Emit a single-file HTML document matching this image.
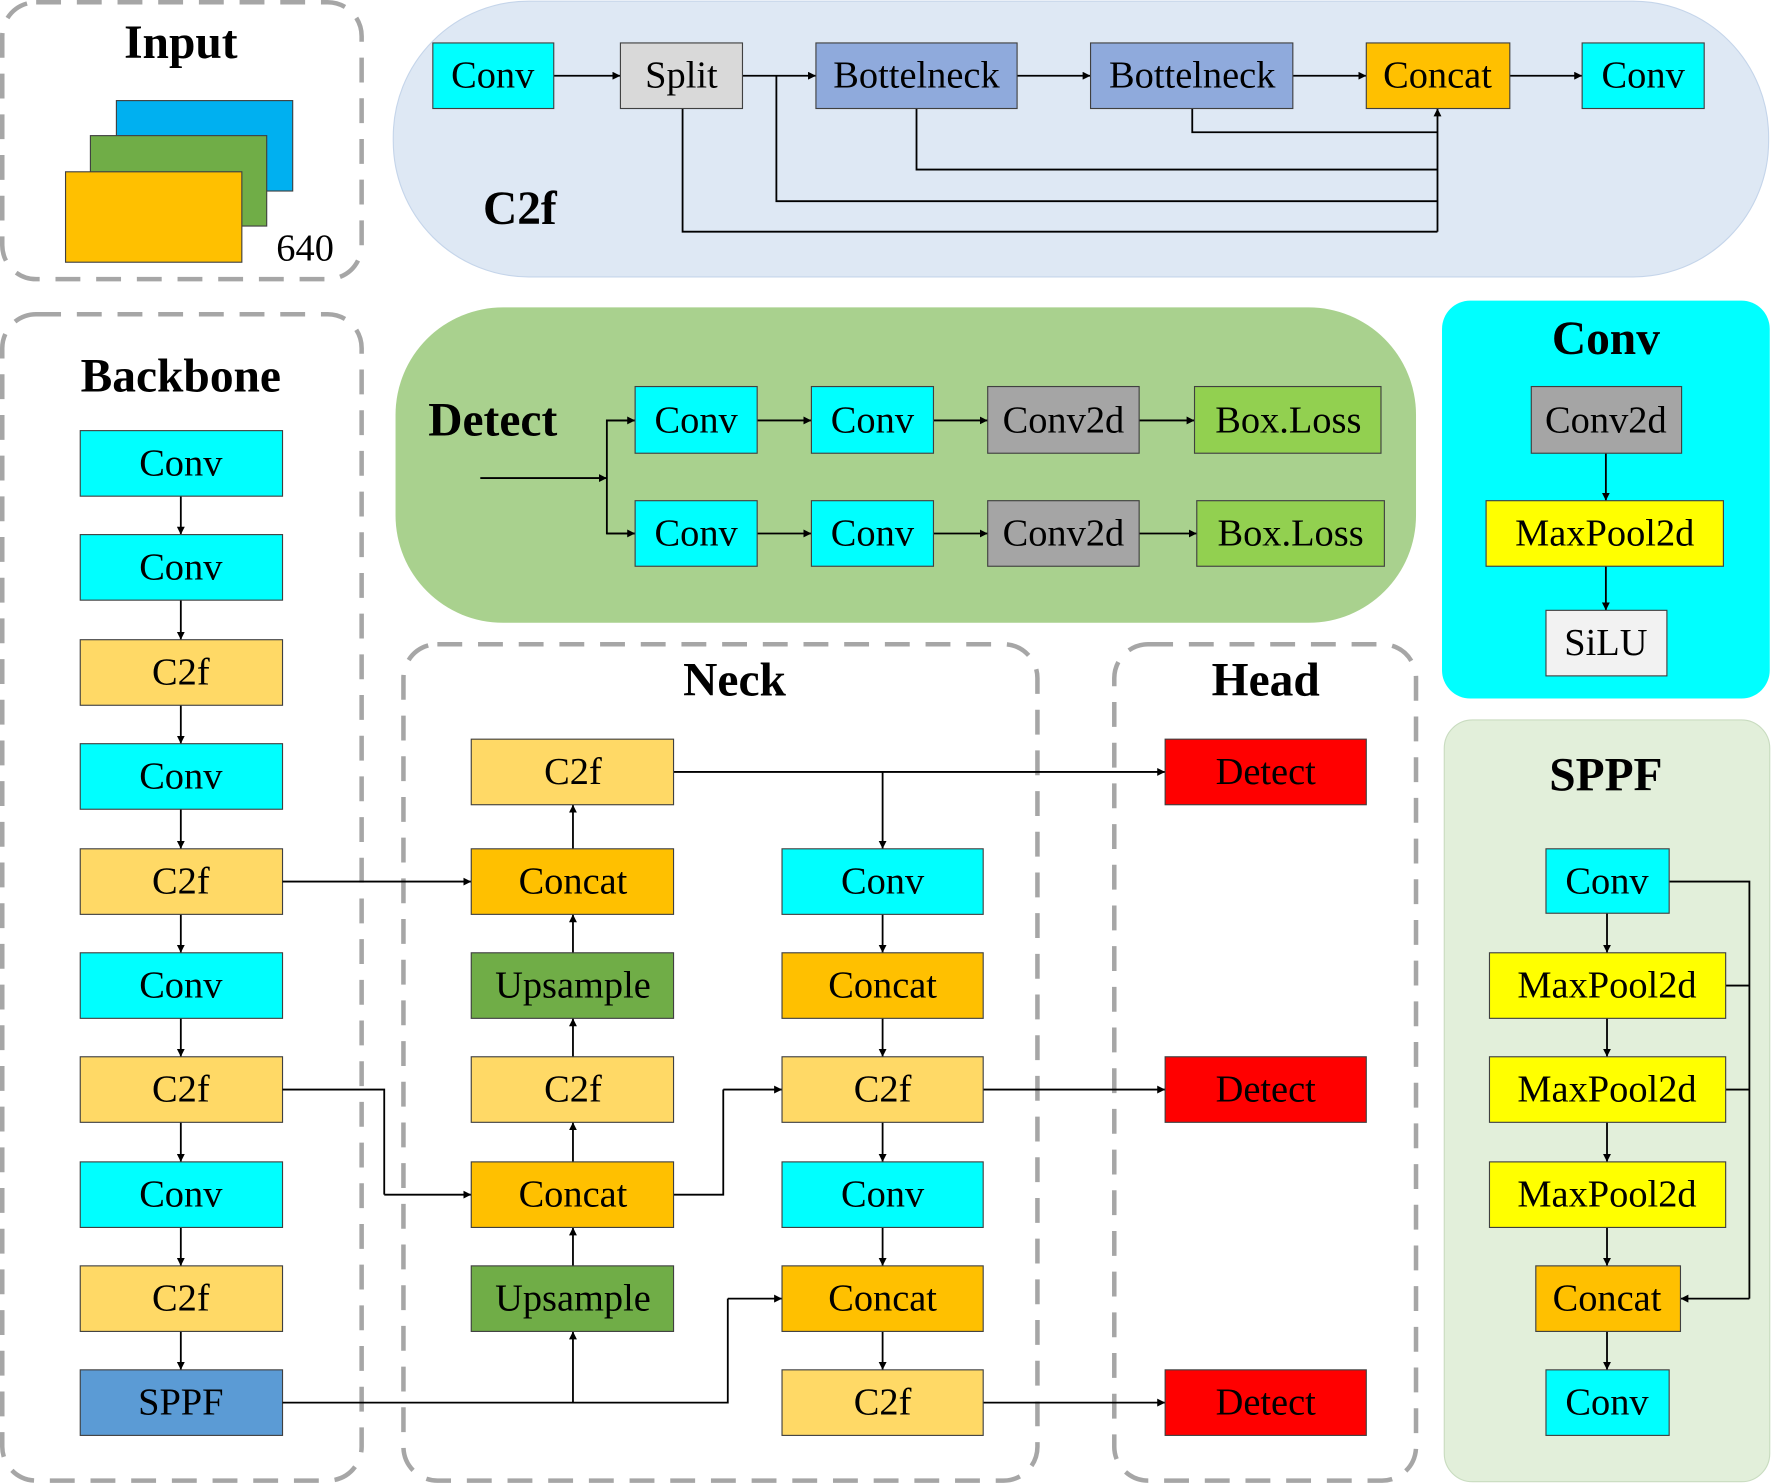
<!DOCTYPE html>
<html><head><meta charset="utf-8"><style>
html,body{margin:0;padding:0;background:#fff;}
svg{display:block;}
text{font-family:"Liberation Serif",serif;text-anchor:middle;dominant-baseline:central;fill:#000;}
.t{font-size:34px;}
.h{font-size:42px;font-weight:bold;}
.b{stroke:#404040;stroke-width:1;}
.l{stroke:#000;stroke-width:1.6;fill:none;}
.d{fill:none;stroke:#a6a6a6;stroke-width:4;stroke-dasharray:22,14;}
</style></head><body>
<svg width="1772" height="1484" viewBox="0 0 1568 1313" preserveAspectRatio="none" xmlns="http://www.w3.org/2000/svg">
<defs><marker id="a" viewBox="0 0 10 10" refX="10" refY="5" markerWidth="7" markerHeight="7" markerUnits="userSpaceOnUse" orient="auto"><path d="M0,0L10,5L0,10z" fill="#000"/></marker></defs>

<!-- Input -->
<rect class="d" x="2" y="2" width="318" height="245" rx="30"/>
<text class="h" x="160" y="38">Input</text>
<rect x="103" y="89" width="156" height="80" fill="#00b0f0" class="b"/>
<rect x="80" y="120" width="156" height="80" fill="#70ad47" class="b"/>
<rect x="58" y="152" width="156" height="80" fill="#ffc000" class="b"/>
<text class="t" x="270" y="220">640</text>

<!-- C2f panel -->
<rect x="348" y="1" width="1217" height="244" rx="120" fill="#dee8f4" stroke="#c5d5ea"/>
<text class="h" x="460" y="185">C2f</text>
<g class="l">
<line x1="490" y1="67" x2="549" y2="67" marker-end="url(#a)"/>
<line x1="657" y1="67" x2="722" y2="67" marker-end="url(#a)"/>
<line x1="900" y1="67" x2="965" y2="67" marker-end="url(#a)"/>
<line x1="1144" y1="67" x2="1209" y2="67" marker-end="url(#a)"/>
<line x1="1336" y1="67" x2="1400" y2="67" marker-end="url(#a)"/>
<polyline points="687,67 687,178 1272,178"/>
<polyline points="604,96 604,205 1272,205"/>
<polyline points="811,96 811,150 1272,150"/>
<polyline points="1055,96 1055,117 1272,117"/>
<line x1="1272" y1="205" x2="1272" y2="96" marker-end="url(#a)"/>
</g>
<rect x="383" y="38" width="107" height="58" fill="#00ffff" class="b"/><text class="t" x="436" y="67">Conv</text>
<rect x="549" y="38" width="108" height="58" fill="#d9d9d9" class="b"/><text class="t" x="603" y="67">Split</text>
<rect x="722" y="38" width="178" height="58" fill="#8faadc" class="b"/><text class="t" x="811" y="67">Bottelneck</text>
<rect x="965" y="38" width="179" height="58" fill="#8faadc" class="b"/><text class="t" x="1055" y="67">Bottelneck</text>
<rect x="1209" y="38" width="127" height="58" fill="#ffc000" class="b"/><text class="t" x="1272" y="67">Concat</text>
<rect x="1400" y="38" width="108" height="58" fill="#00ffff" class="b"/><text class="t" x="1454" y="67">Conv</text>

<!-- Detect panel -->
<rect x="350" y="272" width="903" height="279" rx="95" fill="#a9d18e"/>
<text class="h" x="436" y="372">Detect</text>
<g class="l">
<line x1="425" y1="423" x2="537" y2="423" marker-end="url(#a)"/>
<polyline points="562,372 537,372 537,472 562,472"/>
<line x1="537" y1="372" x2="562" y2="372" marker-end="url(#a)"/>
<line x1="537" y1="472" x2="562" y2="472" marker-end="url(#a)"/>
<line x1="670" y1="372" x2="718" y2="372" marker-end="url(#a)"/>
<line x1="826" y1="372" x2="874" y2="372" marker-end="url(#a)"/>
<line x1="1008" y1="372" x2="1057" y2="372" marker-end="url(#a)"/>
<line x1="670" y1="472" x2="718" y2="472" marker-end="url(#a)"/>
<line x1="826" y1="472" x2="874" y2="472" marker-end="url(#a)"/>
<line x1="1008" y1="472" x2="1059" y2="472" marker-end="url(#a)"/>
</g>
<rect x="562" y="342" width="108" height="59" fill="#00ffff" class="b"/><text class="t" x="616" y="372">Conv</text>
<rect x="718" y="342" width="108" height="59" fill="#00ffff" class="b"/><text class="t" x="772" y="372">Conv</text>
<rect x="874" y="342" width="134" height="59" fill="#a5a5a5" class="b"/><text class="t" x="941" y="372">Conv2d</text>
<rect x="1057" y="342" width="165" height="59" fill="#92d050" class="b"/><text class="t" x="1140" y="372">Box.Loss</text>
<rect x="562" y="443" width="108" height="58" fill="#00ffff" class="b"/><text class="t" x="616" y="472">Conv</text>
<rect x="718" y="443" width="108" height="58" fill="#00ffff" class="b"/><text class="t" x="772" y="472">Conv</text>
<rect x="874" y="443" width="134" height="58" fill="#a5a5a5" class="b"/><text class="t" x="941" y="472">Conv2d</text>
<rect x="1059" y="443" width="166" height="58" fill="#92d050" class="b"/><text class="t" x="1142" y="472">Box.Loss</text>

<!-- Conv panel -->
<rect x="1276" y="266" width="290" height="352" rx="25" fill="#00ffff"/>
<text class="h" x="1421" y="300">Conv</text>
<g class="l">
<line x1="1421" y1="401" x2="1421" y2="443" marker-end="url(#a)"/>
<line x1="1421" y1="501" x2="1421" y2="540" marker-end="url(#a)"/>
</g>
<rect x="1355" y="342" width="133" height="59" fill="#a5a5a5" class="b"/><text class="t" x="1421" y="372">Conv2d</text>
<rect x="1315" y="443" width="210" height="58" fill="#ffff00" class="b"/><text class="t" x="1420" y="472">MaxPool2d</text>
<rect x="1368" y="540" width="107" height="58" fill="#f2f2f2" class="b"/><text class="t" x="1421" y="569">SiLU</text>

<!-- SPPF panel -->
<rect x="1278" y="637" width="288" height="674" rx="25" fill="#e2efda" stroke="#c9dcc0"/>
<text class="h" x="1421" y="686">SPPF</text>
<g class="l">
<line x1="1422" y1="808" x2="1422" y2="843" marker-end="url(#a)"/>
<line x1="1422" y1="901" x2="1422" y2="935" marker-end="url(#a)"/>
<line x1="1422" y1="993" x2="1422" y2="1028" marker-end="url(#a)"/>
<line x1="1422" y1="1086" x2="1422" y2="1120" marker-end="url(#a)"/>
<line x1="1422" y1="1178" x2="1422" y2="1212" marker-end="url(#a)"/>
<polyline points="1477,780 1548,780 1548,1149"/>
<line x1="1527" y1="872" x2="1548" y2="872"/>
<line x1="1527" y1="964" x2="1548" y2="964"/>
<line x1="1548" y1="1149" x2="1487" y2="1149" marker-end="url(#a)"/>
</g>
<rect x="1368" y="751" width="109" height="57" fill="#00ffff" class="b"/><text class="t" x="1422" y="780">Conv</text>
<rect x="1318" y="843" width="209" height="58" fill="#ffff00" class="b"/><text class="t" x="1422" y="872">MaxPool2d</text>
<rect x="1318" y="935" width="209" height="58" fill="#ffff00" class="b"/><text class="t" x="1422" y="964">MaxPool2d</text>
<rect x="1318" y="1028" width="209" height="58" fill="#ffff00" class="b"/><text class="t" x="1422" y="1057">MaxPool2d</text>
<rect x="1359" y="1120" width="128" height="58" fill="#ffc000" class="b"/><text class="t" x="1422" y="1149">Concat</text>
<rect x="1368" y="1212" width="109" height="58" fill="#00ffff" class="b"/><text class="t" x="1422" y="1241">Conv</text>

<!-- Backbone -->
<rect class="d" x="2" y="278" width="318" height="1032" rx="30"/>
<text class="h" x="160" y="333">Backbone</text>
<g class="l">
<line x1="160" y1="439" x2="160" y2="473" marker-end="url(#a)"/>
<line x1="160" y1="531" x2="160" y2="566" marker-end="url(#a)"/>
<line x1="160" y1="624" x2="160" y2="658" marker-end="url(#a)"/>
<line x1="160" y1="716" x2="160" y2="751" marker-end="url(#a)"/>
<line x1="160" y1="809" x2="160" y2="843" marker-end="url(#a)"/>
<line x1="160" y1="901" x2="160" y2="935" marker-end="url(#a)"/>
<line x1="160" y1="993" x2="160" y2="1028" marker-end="url(#a)"/>
<line x1="160" y1="1086" x2="160" y2="1120" marker-end="url(#a)"/>
<line x1="160" y1="1178" x2="160" y2="1212" marker-end="url(#a)"/>
</g>
<rect x="71" y="381" width="179" height="58" fill="#00ffff" class="b"/><text class="t" x="160" y="410">Conv</text>
<rect x="71" y="473" width="179" height="58" fill="#00ffff" class="b"/><text class="t" x="160" y="502">Conv</text>
<rect x="71" y="566" width="179" height="58" fill="#ffd966" class="b"/><text class="t" x="160" y="595">C2f</text>
<rect x="71" y="658" width="179" height="58" fill="#00ffff" class="b"/><text class="t" x="160" y="687">Conv</text>
<rect x="71" y="751" width="179" height="58" fill="#ffd966" class="b"/><text class="t" x="160" y="780">C2f</text>
<rect x="71" y="843" width="179" height="58" fill="#00ffff" class="b"/><text class="t" x="160" y="872">Conv</text>
<rect x="71" y="935" width="179" height="58" fill="#ffd966" class="b"/><text class="t" x="160" y="964">C2f</text>
<rect x="71" y="1028" width="179" height="58" fill="#00ffff" class="b"/><text class="t" x="160" y="1057">Conv</text>
<rect x="71" y="1120" width="179" height="58" fill="#ffd966" class="b"/><text class="t" x="160" y="1149">C2f</text>
<rect x="71" y="1212" width="179" height="58" fill="#5b9bd5" class="b"/><text class="t" x="160" y="1241">SPPF</text>

<!-- Neck & Head -->
<rect class="d" x="357" y="570" width="561" height="740" rx="30"/>
<text class="h" x="650" y="602">Neck</text>
<rect class="d" x="986" y="570" width="267" height="740" rx="30"/>
<text class="h" x="1120" y="602">Head</text>

<g class="l">
<line x1="250" y1="780" x2="417" y2="780" marker-end="url(#a)"/>
<polyline points="250,964 340,964 340,1057"/>
<line x1="340" y1="1057" x2="417" y2="1057" marker-end="url(#a)"/>
<polyline points="250,1241 644,1241 644,1149"/>
<line x1="644" y1="1149" x2="692" y2="1149" marker-end="url(#a)"/>
<line x1="507" y1="1241" x2="507" y2="1178" marker-end="url(#a)"/>
<line x1="507" y1="1120" x2="507" y2="1086" marker-end="url(#a)"/>
<line x1="507" y1="1028" x2="507" y2="993" marker-end="url(#a)"/>
<line x1="507" y1="935" x2="507" y2="901" marker-end="url(#a)"/>
<line x1="507" y1="843" x2="507" y2="809" marker-end="url(#a)"/>
<line x1="507" y1="751" x2="507" y2="712" marker-end="url(#a)"/>
<polyline points="596,1057 640,1057 640,964"/>
<line x1="640" y1="964" x2="692" y2="964" marker-end="url(#a)"/>
<line x1="596" y1="683" x2="1031" y2="683" marker-end="url(#a)"/>
<line x1="781" y1="683" x2="781" y2="751" marker-end="url(#a)"/>
<line x1="781" y1="809" x2="781" y2="843" marker-end="url(#a)"/>
<line x1="781" y1="901" x2="781" y2="935" marker-end="url(#a)"/>
<line x1="781" y1="993" x2="781" y2="1028" marker-end="url(#a)"/>
<line x1="781" y1="1086" x2="781" y2="1120" marker-end="url(#a)"/>
<line x1="781" y1="1178" x2="781" y2="1212" marker-end="url(#a)"/>
<line x1="870" y1="964" x2="1031" y2="964" marker-end="url(#a)"/>
<line x1="870" y1="1241" x2="1031" y2="1241" marker-end="url(#a)"/>
</g>
<rect x="417" y="654" width="179" height="58" fill="#ffd966" class="b"/><text class="t" x="507" y="683">C2f</text>
<rect x="417" y="751" width="179" height="58" fill="#ffc000" class="b"/><text class="t" x="507" y="780">Concat</text>
<rect x="417" y="843" width="179" height="58" fill="#70ad47" class="b"/><text class="t" x="507" y="872">Upsample</text>
<rect x="417" y="935" width="179" height="58" fill="#ffd966" class="b"/><text class="t" x="507" y="964">C2f</text>
<rect x="417" y="1028" width="179" height="58" fill="#ffc000" class="b"/><text class="t" x="507" y="1057">Concat</text>
<rect x="417" y="1120" width="179" height="58" fill="#70ad47" class="b"/><text class="t" x="507" y="1149">Upsample</text>
<rect x="692" y="751" width="178" height="58" fill="#00ffff" class="b"/><text class="t" x="781" y="780">Conv</text>
<rect x="692" y="843" width="178" height="58" fill="#ffc000" class="b"/><text class="t" x="781" y="872">Concat</text>
<rect x="692" y="935" width="178" height="58" fill="#ffd966" class="b"/><text class="t" x="781" y="964">C2f</text>
<rect x="692" y="1028" width="178" height="58" fill="#00ffff" class="b"/><text class="t" x="781" y="1057">Conv</text>
<rect x="692" y="1120" width="178" height="58" fill="#ffc000" class="b"/><text class="t" x="781" y="1149">Concat</text>
<rect x="692" y="1212" width="178" height="58" fill="#ffd966" class="b"/><text class="t" x="781" y="1241">C2f</text>
<rect x="1031" y="654" width="178" height="58" fill="#ff0000" class="b"/><text class="t" x="1120" y="683">Detect</text>
<rect x="1031" y="935" width="178" height="58" fill="#ff0000" class="b"/><text class="t" x="1120" y="964">Detect</text>
<rect x="1031" y="1212" width="178" height="58" fill="#ff0000" class="b"/><text class="t" x="1120" y="1241">Detect</text>
</svg>
</body></html>
